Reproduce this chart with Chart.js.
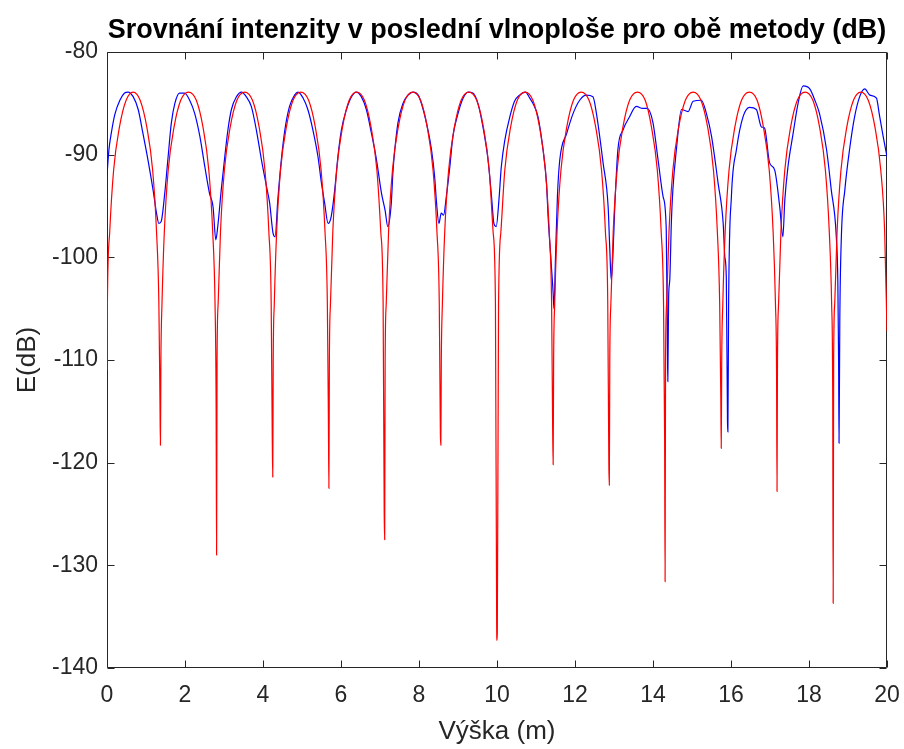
<!DOCTYPE html>
<html>
<head>
<meta charset="utf-8">
<script src="https://cdn.jsdelivr.net/npm/chart.js@4/dist/chart.umd.min.js"></script>
<style>
  html, body { margin: 0; padding: 0; background: #ffffff; }
  #wrap { width: 904px; height: 749px; }
</style>
</head>
<body>
<div id="wrap"><canvas id="c" width="904" height="749"></canvas></div>
<script>
// ---------- data ----------
const chartTitle = 'Srovnání intenzity v poslední vlnoploše pro obě metody (dB)';
const xAxisTitle = 'Výška (m)';
const yAxisTitle = 'E(dB)';
const xTickValues = [0, 2, 4, 6, 8, 10, 12, 14, 16, 18, 20];
const yTickValues = [-140, -130, -120, -110, -100, -90, -80];

// red series (x = height in m, y = dB)
const redX = [
  0, 0.01, 0.07, 0.17, 0.32, 0.49, 0.67, 0.85, 1.02, 1.17, 1.27, 1.33, 1.358, 1.37, 1.382,
  1.41, 1.47, 1.57, 1.72, 1.89, 2.09, 2.29, 2.46, 2.61, 2.71, 2.77, 2.798, 2.81, 2.822,
  2.85, 2.91, 3.01, 3.16, 3.33, 3.53, 3.73, 3.9, 4.05, 4.15, 4.21, 4.238, 4.25, 4.262,
  4.29, 4.35, 4.45, 4.6, 4.77, 4.97, 5.17, 5.34, 5.49, 5.59, 5.65, 5.678, 5.69, 5.702,
  5.73, 5.79, 5.89, 6.04, 6.21, 6.4, 6.6, 6.77, 6.92, 7.02, 7.08, 7.108, 7.12, 7.132,
  7.16, 7.22, 7.32, 7.47, 7.64, 7.84, 8.04, 8.21, 8.36, 8.46, 8.52, 8.548, 8.56, 8.572,
  8.6, 8.66, 8.76, 8.91, 9.08, 9.28, 9.48, 9.65, 9.8, 9.9, 9.96, 9.992, 10.0, 10.008,
  10.04, 10.1, 10.2, 10.35, 10.52, 10.72, 10.92, 11.09, 11.24, 11.34, 11.4, 11.428, 11.44, 11.452,
  11.48, 11.54, 11.64, 11.79, 11.96, 12.16, 12.36, 12.53, 12.68, 12.78, 12.84, 12.868, 12.88, 12.892,
  12.92, 12.98, 13.08, 13.23, 13.4, 13.6, 13.8, 13.96, 14.11, 14.21, 14.27, 14.298, 14.31, 14.322,
  14.35, 14.41, 14.51, 14.66, 14.83, 15.03, 15.23, 15.4, 15.55, 15.65, 15.71, 15.738, 15.75, 15.762,
  15.79, 15.85, 15.95, 16.1, 16.27, 16.47, 16.67, 16.83, 16.98, 17.08, 17.14, 17.168, 17.18, 17.192,
  17.22, 17.28, 17.38, 17.53, 17.7, 17.9, 18.1, 18.27, 18.42, 18.52, 18.58, 18.608, 18.62, 18.632,
  18.66, 18.72, 18.82, 18.97, 19.14, 19.33, 19.52, 19.69, 19.84, 19.94, 20.0
];
const redY = [
  -111.0, -104.5, -97.5, -91.5, -87.3, -84.7, -83.9, -84.7, -87.3, -91.5, -97.5, -104.5, -113.9, -118.3, -110.0,
  -104.5, -97.5, -91.5, -87.3, -84.7, -83.9, -84.7, -87.3, -91.5, -97.5, -104.5, -114.5, -129.0, -110.0,
  -104.5, -97.5, -91.5, -87.3, -84.7, -83.9, -84.7, -87.3, -91.5, -97.5, -104.5, -117.8, -121.4, -110.0,
  -104.5, -97.5, -91.5, -87.3, -84.7, -83.9, -84.7, -87.3, -91.5, -97.5, -104.5, -116.3, -122.5, -110.0,
  -104.5, -97.5, -91.5, -87.3, -84.7, -83.9, -84.7, -87.3, -91.5, -97.5, -104.5, -124.9, -127.5, -110.0,
  -104.5, -97.5, -91.5, -87.3, -84.7, -83.9, -84.7, -87.3, -91.5, -97.5, -104.5, -117.1, -118.3, -110.0,
  -104.5, -97.5, -91.5, -87.3, -84.7, -83.9, -84.7, -87.3, -91.5, -97.5, -104.5, -136.0, -137.3, -136.5,
  -104.5, -97.5, -91.5, -87.3, -84.7, -83.9, -84.7, -87.3, -91.5, -97.5, -104.5, -117.0, -120.2, -110.0,
  -104.5, -97.5, -91.5, -87.3, -84.7, -83.9, -84.7, -87.3, -91.5, -97.5, -104.5, -120.2, -122.2, -110.0,
  -104.5, -97.5, -91.5, -87.3, -84.7, -83.9, -84.7, -87.3, -91.5, -97.5, -104.5, -117.4, -131.6, -110.0,
  -104.5, -97.5, -91.5, -87.3, -84.7, -83.9, -84.7, -87.3, -91.5, -97.5, -104.5, -113.4, -118.6, -110.0,
  -104.5, -97.5, -91.5, -87.3, -84.7, -83.9, -84.7, -87.3, -91.5, -97.5, -104.5, -111.0, -122.8, -110.0,
  -104.5, -97.5, -91.5, -87.3, -84.7, -83.9, -84.7, -87.3, -91.5, -97.5, -104.5, -113.4, -133.7, -110.0,
  -104.5, -97.5, -91.5, -87.3, -84.7, -83.9, -84.7, -87.3, -91.5, -97.5, -107.2
];

// blue series
const blueX = [
  0, 0.05, 0.11, 0.2, 0.33, 0.45, 0.54, 0.67, 0.8, 0.92, 1.05, 1.18, 1.27, 1.33, 1.39,
  1.48, 1.56, 1.65, 1.74, 1.86, 1.99, 2.12, 2.25, 2.38, 2.51, 2.63, 2.72, 2.79, 2.84,
  2.93, 3.02, 3.1, 3.19, 3.32, 3.45, 3.57, 3.7, 3.83, 3.96, 4.09, 4.17, 4.26, 4.31,
  4.38, 4.47, 4.56, 4.68, 4.81, 4.9, 5.03, 5.15, 5.28, 5.41, 5.5, 5.58, 5.67, 5.75,
  5.84, 5.92, 6.01, 6.14, 6.27, 6.39, 6.52, 6.65, 6.78, 6.91, 7.04, 7.13, 7.2,
  7.29, 7.33, 7.38, 7.46, 7.59, 7.72, 7.85, 7.98, 8.1, 8.23, 8.32, 8.4, 8.45, 8.51, 8.57, 8.63,
  8.7, 8.79, 8.87, 9.0, 9.13, 9.26, 9.38, 9.51, 9.64, 9.77, 9.86, 9.92, 9.98,
  10.05, 10.11, 10.2, 10.33, 10.45, 10.58, 10.73, 10.84, 10.92, 11.05, 11.18, 11.27, 11.31, 11.39, 11.44, 11.46, 11.5,
  11.55, 11.61, 11.79, 11.95, 12.12, 12.29, 12.46, 12.55, 12.72, 12.85, 12.89, 12.93, 12.97,
  13.02, 13.1, 13.23, 13.4, 13.57, 13.74, 13.85, 14.0, 14.13, 14.26, 14.34, 14.37, 14.38, 14.4, 14.43,
  14.47, 14.51, 14.6, 14.73, 14.9, 15.03, 15.24, 15.37, 15.5, 15.67, 15.8, 15.84, 15.88, 15.91, 15.92, 15.94,
  16.01, 16.14, 16.31, 16.48, 16.65, 16.78, 16.86, 16.99, 17.12, 17.25, 17.33,
  17.38, 17.46, 17.59, 17.72, 17.85, 18.02, 18.15, 18.27, 18.45, 18.57, 18.7, 18.74, 18.76, 18.77, 18.79,
  18.83, 18.92, 19.04, 19.17, 19.3, 19.43, 19.56, 19.73, 19.8, 19.9, 20.0
];
const blueY = [
  -92.0, -89.5, -87.9, -86.1, -84.7, -84.0, -83.9, -84.35, -85.6, -87.9, -90.5, -93.4, -95.7, -96.7, -96.5,
  -93.8, -90.5, -86.9, -85.0, -84.0, -84.0, -84.7, -86.0, -88.2, -91.2, -93.8, -95.1, -98.3, -97.0,
  -93.4, -90.2, -87.6, -85.6, -84.35, -83.9, -84.35, -85.3, -87.6, -90.5, -93.1, -94.7, -97.7, -98.0,
  -94.4, -90.5, -87.6, -85.3, -84.2, -83.9, -84.5, -85.6, -87.6, -90.2, -92.8, -94.7, -96.7, -96.0,
  -93.4, -90.2, -87.6, -85.6, -84.35, -83.9, -84.35, -85.6, -87.9, -90.5, -93.8, -95.4, -97.0,
  -94.7, -91.8, -89.5, -86.9, -85.0, -84.2, -83.9, -84.2, -85.5, -87.6, -89.5, -92.1, -94.7, -96.7, -95.7, -95.9,
  -94.1, -91.2, -88.2, -86.0, -84.5, -83.9, -84.0, -85.0, -87.3, -90.5, -94.1, -96.7, -97.0,
  -94.4, -91.2, -88.6, -86.3, -84.8, -84.2, -83.9, -84.5, -85.0, -86.3, -89.5, -92.8, -96.0, -100.6, -103.5, -105.0, -100.0,
  -94.0, -90.5, -87.9, -86.0, -84.7, -84.2, -84.35, -86.0, -90.8, -95.1, -99.0, -102.2, -100.0,
  -95.1, -89.5, -87.6, -86.3, -85.3, -85.5, -85.5, -86.9, -90.5, -94.1, -97.3, -109.0, -112.1, -104.0, -102.2,
  -96.7, -93.4, -89.5, -85.6, -85.8, -84.8, -84.7, -86.0, -88.2, -92.8, -96.7, -99.9, -102.0, -116.0, -117.0, -104.0,
  -94.1, -89.5, -86.3, -85.4, -85.6, -87.3, -87.4, -90.8, -91.5, -95.1, -98.0,
  -94.4, -91.2, -88.0, -85.0, -83.3, -83.6, -84.7, -86.0, -89.5, -93.4, -98.0, -102.5, -110.5, -118.1, -106.0,
  -98.0, -93.4, -89.5, -86.3, -84.35, -83.6, -84.2, -84.5, -86.0, -88.2, -90.2
];

// ---------- chart ----------
const AXIS_COLOR = '#262626';
const TEXT_COLOR = '#262626';
const FONT = '"Liberation Sans", Arial, Helvetica, sans-serif';

const toPoints = (xs, ys) => xs.map((x, i) => ({ x: x, y: ys[i] }));

const boxPlugin = {
  id: 'matlabBox',
  beforeDatasetsDraw(chart) {
    const { ctx, chartArea: a, scales: { x, y } } = chart;
    const L = Math.round(a.left) + 0.5, R = Math.round(a.right) - 0.5;
    const T = Math.round(a.top) + 0.5, B = Math.round(a.bottom) - 0.5;
    const tl = 7;
    ctx.save();
    ctx.strokeStyle = AXIS_COLOR;
    ctx.lineWidth = 1;
    ctx.beginPath();
    ctx.rect(L, T, R - L, B - T);
    xTickValues.forEach(v => {
      const px = Math.round(x.getPixelForValue(v)) + 0.5;
      ctx.moveTo(px, B); ctx.lineTo(px, B - tl);
      ctx.moveTo(px, T); ctx.lineTo(px, T + tl);
    });
    yTickValues.forEach(v => {
      const py = Math.round(y.getPixelForValue(v)) + 0.5;
      ctx.moveTo(L, py); ctx.lineTo(L + tl, py);
      ctx.moveTo(R, py); ctx.lineTo(R - tl, py);
    });
    ctx.stroke();
    ctx.restore();
  },
  afterDraw(chart) {
    const { ctx, chartArea: a } = chart;
    ctx.save();
    ctx.fillStyle = '#000000';
    ctx.font = 'bold 27px ' + FONT;
    ctx.textAlign = 'center';
    ctx.textBaseline = 'alphabetic';
    ctx.fillText(chartTitle, (a.left + a.right) / 2, 38);
    ctx.restore();
  }
};

new Chart(document.getElementById('c'), {
  type: 'scatter',
  data: {
    datasets: [
      {
        label: 'red',
        data: toPoints(redX, redY),
        showLine: true,
        borderColor: '#ff0000',
        backgroundColor: '#ff0000',
        borderWidth: 1.2,
        pointRadius: 0,
        cubicInterpolationMode: 'monotone',
        order: 0
      },
      {
        label: 'blue',
        data: toPoints(blueX, blueY),
        showLine: true,
        borderColor: '#0000ff',
        backgroundColor: '#0000ff',
        borderWidth: 1.2,
        pointRadius: 0,
        cubicInterpolationMode: 'monotone',
        order: 1
      }
    ]
  },
  options: {
    responsive: false,
    animation: false,
    devicePixelRatio: 1,
    layout: { padding: { top: 52, right: 17, left: 0, bottom: 0 } },
    plugins: {
      legend: { display: false },
      tooltip: { enabled: false },
      title: { display: false }
    },
    scales: {
      x: {
        type: 'linear',
        min: 0, max: 20,
        afterFit(s) { s.height = 81; s.paddingLeft = 0; s.paddingRight = 0; },
        afterBuildTicks(s) { s.ticks = xTickValues.map(v => ({ value: v })); },
        grid: { display: false, drawTicks: false },
        border: { display: false },
        ticks: {
          color: TEXT_COLOR,
          padding: 14,
          maxRotation: 0,
          font: { family: FONT, size: 23 },
          callback: v => String(v)
        },
        title: {
          display: true,
          text: xAxisTitle,
          color: TEXT_COLOR,
          font: { family: FONT, size: 26 },
          padding: { top: 0, bottom: 2 }
        }
      },
      y: {
        type: 'linear',
        min: -140, max: -80,
        afterFit(s) { s.width = 107; s.paddingTop = 0; s.paddingBottom = 0; },
        afterBuildTicks(s) { s.ticks = yTickValues.map(v => ({ value: v })); },
        grid: { display: false, drawTicks: false },
        border: { display: false },
        ticks: {
          color: TEXT_COLOR,
          padding: 9,
          font: { family: FONT, size: 23 },
          callback: v => String(v)
        },
        title: {
          display: true,
          text: yAxisTitle,
          color: TEXT_COLOR,
          font: { family: FONT, size: 26 },
          padding: { top: 12, bottom: 0 }
        }
      }
    }
  },
  plugins: [boxPlugin]
});
</script>
</body>
</html>
